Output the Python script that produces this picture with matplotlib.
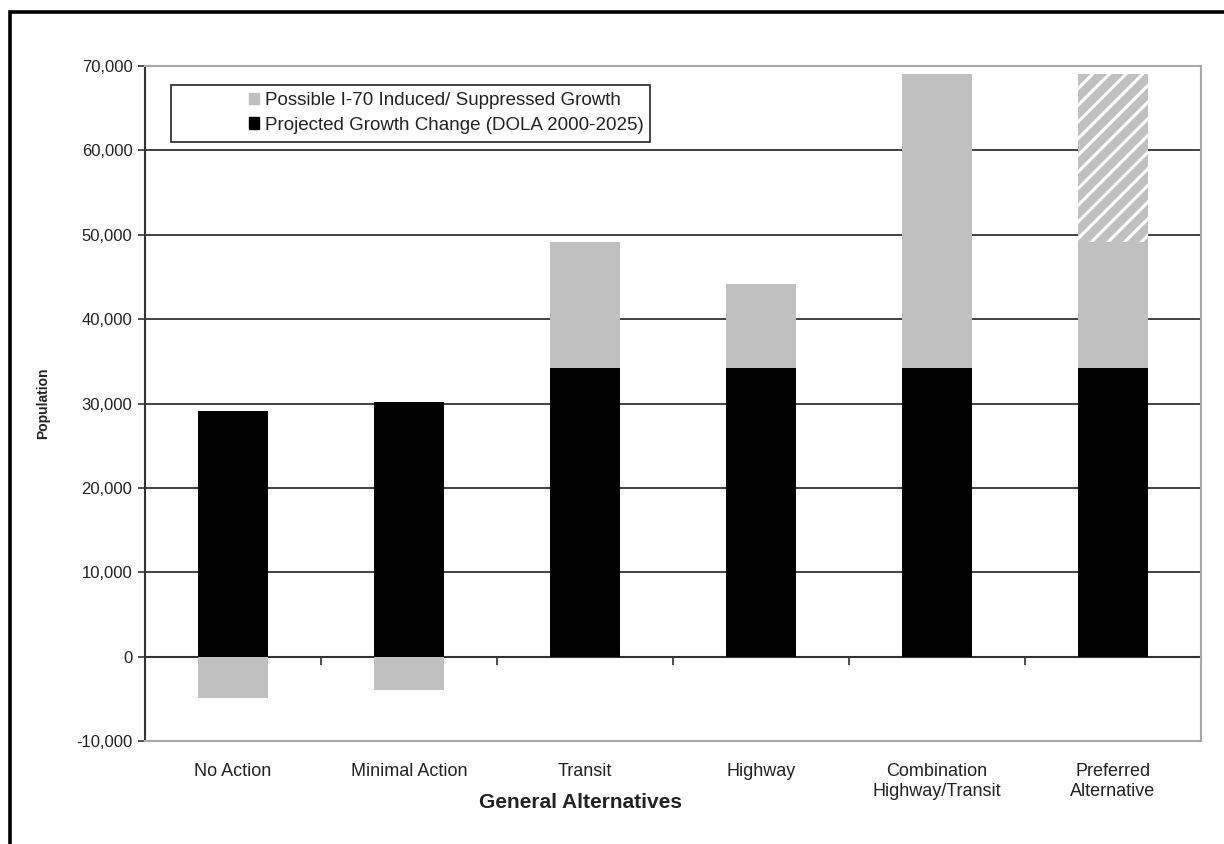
import numpy as np
import matplotlib
matplotlib.use("Agg")
import matplotlib.pyplot as plt
from matplotlib.lines import Line2D
from matplotlib.patches import Rectangle
from matplotlib.ticker import FuncFormatter

plt.rcParams['font.family'] = ['Liberation Sans', 'DejaVu Sans']
plt.rcParams['hatch.linewidth'] = 2.2

categories = ['No Action', 'Minimal Action', 'Transit', 'Highway',
              'Combination\nHighway/Transit', 'Preferred\nAlternative']
projected = [29100, 30200, 34200, 34200, 34200, 34200]   # DOLA 2000-2025
induced = [-4900, -3900, 14900, 10000, 34900, 14900]     # I-70 induced / suppressed
extra_preferred = [0, 0, 0, 0, 0, 20000]                 # hatched upper range

y_min, y_max = -10000, 70000
y_ticks = np.arange(-10000, 70001, 10000)

GRAY = '#c0c0c0'
TEXT = '#222222'

fig = plt.figure(figsize=(12.24, 8.44), dpi=100)
ax = fig.add_axes([145/1224, 103/844, 1056/1224, 675/844])

x = np.arange(len(categories))
w = 0.4

ax.bar(x, projected, w, color='black', zorder=2)
ind_bottom = [p if v > 0 else 0 for p, v in zip(projected, induced)]
ax.bar(x, induced, w, bottom=ind_bottom, color=GRAY, zorder=2)
ext_bottom = [p + v for p, v in zip(projected, induced)]
ext = np.array(extra_preferred)
mask = ext > 0
ax.bar(x[mask], ext[mask], w, bottom=np.array(ext_bottom)[mask],
       color=GRAY, edgecolor='white', hatch='//', linewidth=0, zorder=2)

# gridlines (top one is the frame itself)
for yv in y_ticks[1:-1]:
    if yv != 0:
        ax.axhline(yv, color='#333333', lw=1.3, zorder=1)

ax.set_xlim(-0.5, len(categories) - 0.5)
ax.set_ylim(y_min, y_max)
ax.set_yticks(y_ticks)
ax.yaxis.set_major_formatter(FuncFormatter(lambda v, p: f'{int(v):,}'))
ax.tick_params(axis='y', direction='out', length=5, width=1.2, color='#333333',
               labelsize=12, labelcolor=TEXT, pad=4)

ax.set_xticks(x)
ax.set_xticklabels(categories, fontsize=13, color=TEXT, linespacing=1.25)
ax.tick_params(axis='x', length=0, pad=16)

for side in ['top', 'right', 'bottom']:
    ax.spines[side].set_color('#a8a8a8')
    ax.spines[side].set_linewidth(1.5)
ax.spines['left'].set_color('#333333')
ax.spines['left'].set_linewidth(1.5)

# zero axis with category divider ticks
zero_frac = (0 - y_min) / (y_max - y_min)
zax = ax.secondary_xaxis(zero_frac)
zax.set_xticks(np.arange(len(categories) + 1) - 0.5)
zax.set_xticklabels([])
zax.tick_params(direction='out', length=6, width=1.2, color='#333333')
zax.spines['bottom'].set_color('#333333')
zax.spines['bottom'].set_linewidth(1.5)

ax.set_ylabel('Population', fontsize=10, fontweight='bold', color=TEXT)
ax.yaxis.set_label_coords(-95/1056, 0.5)
ax.set_xlabel('General Alternatives', fontsize=15, fontweight='bold', color=TEXT,
              va='center')
ax.xaxis.set_label_coords(0.412, -61/675)

# legend with wide box
ax.add_patch(Rectangle((26/1056, 1 - 76/675), 479/1056, 57/675,
                       transform=ax.transAxes, facecolor='white',
                       edgecolor='#222222', lw=1.2, zorder=3))
handles = [Rectangle((0, 0), 1, 1, color=GRAY), Rectangle((0, 0), 1, 1, color='black')]
ax.legend(handles, ['Possible I-70 Induced/ Suppressed Growth',
                    'Projected Growth Change (DOLA 2000-2025)'],
          loc='upper left', bbox_to_anchor=(104/1056, 1 - 26/675), frameon=False,
          fontsize=13.5, handlelength=0.55, handleheight=0.55, handletextpad=0.3,
          labelspacing=0.4, borderpad=0, borderaxespad=0, labelcolor=TEXT)

# outer frame (left and top edges)
fx, fy = 10/1224, 1 - 12/844
fig.add_artist(Line2D([fx, fx, 1], [0, fy, fy], transform=fig.transFigure,
                      color='black', lw=2.6, solid_joinstyle='miter'))

fig.savefig('out.png', dpi=100)
